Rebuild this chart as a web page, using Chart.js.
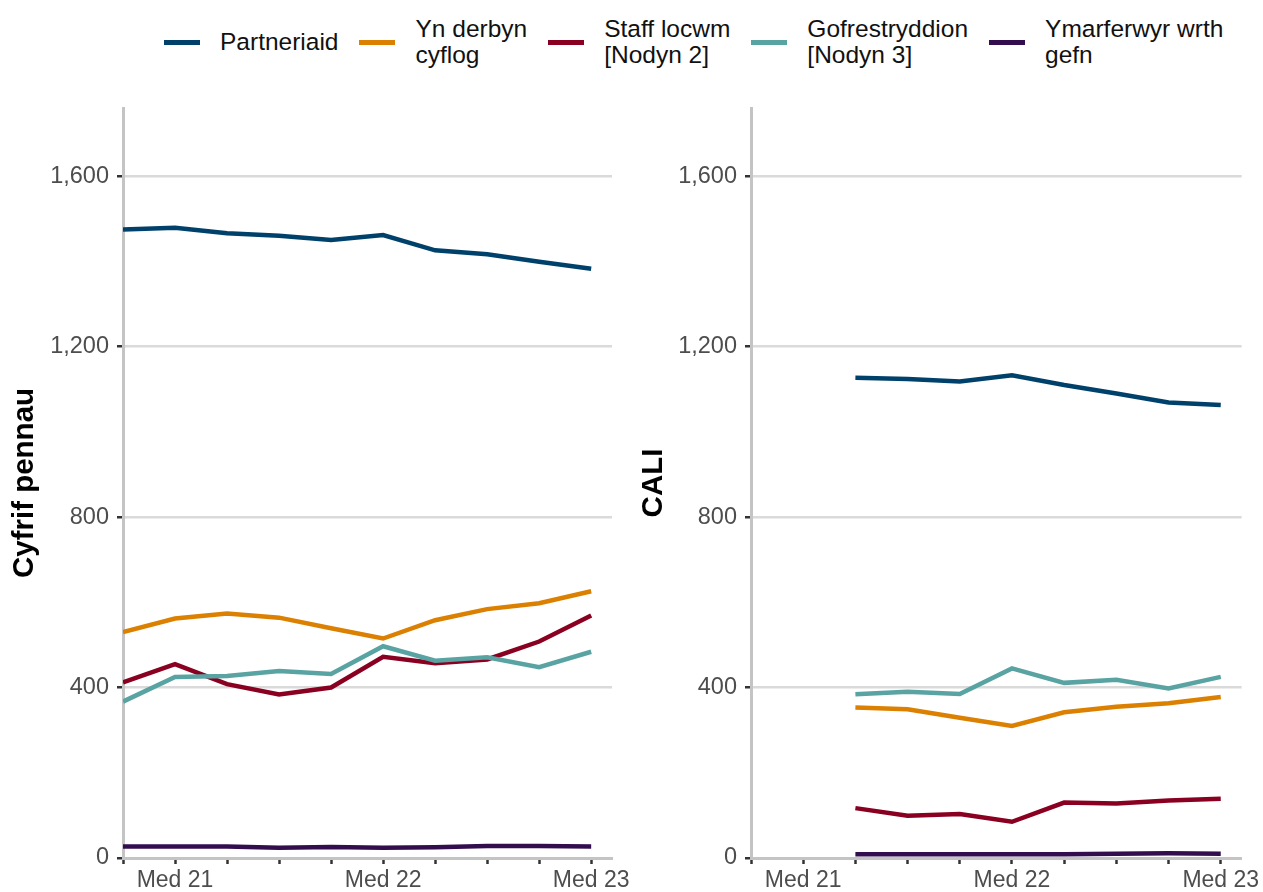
<!DOCTYPE html>
<html>
<head>
<meta charset="utf-8">
<script src="https://cdn.jsdelivr.net/npm/chart.js@4/dist/chart.umd.min.js"></script>
<style>
  html, body { margin: 0; padding: 0; background: #fff; }
  body { width: 1263px; height: 892px; position: relative; overflow: hidden; font-family: "Liberation Sans", Arial, sans-serif; }
  #legend { position: absolute; left: 164px; top: 0; height: 84px; display: flex; align-items: center; }
  .item { display: flex; align-items: center; margin-right: 21px; }
  .swatch { width: 36px; height: 5px; margin-right: 20px; }
  .label { font-size: 24.5px; line-height: 26px; color: #111; white-space: pre-line; }
  canvas { position: absolute; top: 0; }
</style>
</head>
<body>
<div id="legend"></div>
<canvas id="leftPanel" width="652" height="892" style="left:0"></canvas>
<canvas id="rightPanel" width="631" height="892" style="left:632px"></canvas>
<script>
const quarters = ['Meh 21', 'Med 21', 'Rhag 21', 'Maw 22', 'Meh 22', 'Med 22', 'Rhag 22', 'Maw 23', 'Meh 23', 'Med 23'];
const seriesNames = ['Partneriaid', 'Yn derbyn\ncyflog', 'Staff locwm\n[Nodyn 2]', 'Gofrestryddion\n[Nodyn 3]', 'Ymarferwyr wrth\ngefn'];
const seriesColors = ['#00416b', '#db8000', '#8a0021', '#59a3a3', '#330e4f'];
const yTicks = [0, 400, 800, 1200, 1600];

// Cyfrif pennau
const headPartneriaid = [1475, 1479, 1466, 1460, 1450, 1462, 1426, 1417, 1399, 1383];
const headCyflog = [530, 562, 574, 564, 539, 515, 558, 584, 598, 626];
const headLocwm = [412, 455, 408, 384, 400, 472, 457, 466, 508, 569];
const headCofrestryddion = [367, 425, 427, 439, 432, 497, 463, 471, 448, 484];
const headWrthGefn = [27, 27, 27, 24, 26, 24, 25, 28, 28, 27];

// CALI - nothing before Rhag 21
const caliPartneriaid = [null, null, 1127, 1124, 1118, 1133, 1110, 1090, 1069, 1063];
const caliCyflog = [null, null, 353, 349, 329, 310, 342, 355, 363, 378];
const caliLocwm = [null, null, 117, 99, 103, 85, 130, 128, 135, 139];
const caliCofrestryddion = [null, null, 384, 390, 385, 445, 411, 418, 398, 425];
const caliWrthGefn = [null, null, 9, 9, 9, 9, 9, 10, 11, 10];

const FONT = '"Liberation Sans", Arial, sans-serif';

// legend
const legendEl = document.getElementById('legend');
seriesNames.forEach((name, i) => {
    legendEl.insertAdjacentHTML('beforeend',
        `<div class="item"><div class="swatch" style="background:${seriesColors[i]}"></div><div class="label">${name}</div></div>`);
});

function makePanel(id, title, series, opts) {
    return new Chart(document.getElementById(id), {
        type: 'line',
        data: {
            datasets: series.map((vals, i) => ({
                label: seriesNames[i],
                data: vals.map((v, j) => ({ x: j, y: v })),
                borderColor: seriesColors[i],
                backgroundColor: seriesColors[i],
                borderWidth: 4.5,
                pointRadius: 0,
                tension: 0,
                order: series.length - i
            }))
        },
        options: {
            responsive: false,
            animation: false,
            layout: { padding: { top: 108, right: opts.padRight, bottom: 0, left: 0 } },
            plugins: { legend: { display: false }, tooltip: { enabled: false } },
            scales: {
                x: {
                    type: 'linear', min: 0, max: 9.4,
                    afterFit: s => { s.height = 34; },
                    afterBuildTicks: s => { s.ticks = quarters.map((q, i) => ({ value: i })); },
                    grid: { drawOnChartArea: false, tickLength: 6, tickColor: '#333', tickWidth: 2.5 },
                    border: { color: '#c4c4c4', width: 3 },
                    ticks: {
                        autoSkip: false, maxRotation: 0, padding: 3,
                        font: { size: 23, family: FONT }, color: '#4d4d4d',
                        callback: v => quarters[v].startsWith('Med') ? quarters[v] : ''
                    }
                },
                y: {
                    min: 0, max: 1760,
                    afterFit: s => { s.width = opts.yWidth; },
                    afterBuildTicks: s => { s.ticks = yTicks.map(v => ({ value: v })); },
                    grid: {
                        color: c => (c.tick && c.tick.value === 0) ? 'rgba(0,0,0,0)' : '#dadada',
                        lineWidth: 2.5, tickLength: 6, tickColor: '#333', tickWidth: 2.5
                    },
                    border: { color: '#c4c4c4', width: 3 },
                    ticks: {
                        padding: 8, font: { size: 23.5, family: FONT }, color: '#4d4d4d',
                        callback: v => v.toLocaleString('en-US')
                    },
                    title: {
                        display: true, text: title, color: '#000',
                        font: { size: 29.5, weight: 'bold', family: FONT },
                        padding: { top: opts.titlePad, bottom: 0 }
                    }
                }
            }
        }
    });
}

makePanel('leftPanel', 'Cyfrif pennau',
    [headPartneriaid, headCyflog, headLocwm, headCofrestryddion, headWrthGefn],
    { padRight: 40, yWidth: 123, titlePad: 7 });
makePanel('rightPanel', 'CALI',
    [caliPartneriaid, caliCyflog, caliLocwm, caliCofrestryddion, caliWrthGefn],
    { padRight: 21, yWidth: 119, titlePad: 4 });
</script>
</body>
</html>
